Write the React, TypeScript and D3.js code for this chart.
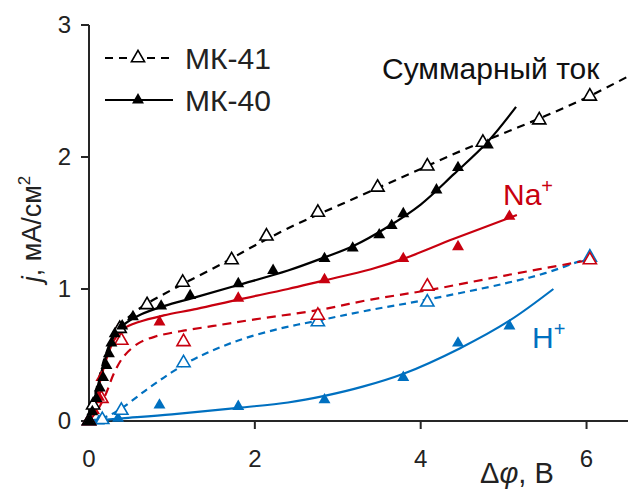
import React from "react";
import * as d3 from "d3";

// measured points: [Δφ, В ; j, мА/см²]
const total41Points = [[0, 0], [0.05, 0.12], [0.37, 0.7], [0.7, 0.88], [1.13, 1.05], [1.72, 1.22], [2.14, 1.4], [2.76, 1.58], [3.48, 1.77], [4.08, 1.93], [4.75, 2.11], [5.43, 2.28], [6.04, 2.46]];
const total40Points = [[0, 0], [0.04, 0.07], [0.09, 0.17], [0.13, 0.25], [0.17, 0.33], [0.21, 0.42], [0.24, 0.51], [0.27, 0.59], [0.31, 0.66], [0.4, 0.72], [0.53, 0.79], [0.87, 0.87], [1.22, 0.95], [1.8, 1.04], [2.22, 1.14], [2.84, 1.23], [3.18, 1.31], [3.5, 1.41], [3.65, 1.48], [3.79, 1.57], [4.19, 1.75], [4.45, 1.92], [4.81, 2.09]];
const na40Points = [[0, 0], [0.06, 0.08], [0.12, 0.18], [0.15, 0.33], [0.35, 0.69], [0.85, 0.75], [1.8, 0.93], [2.84, 1.07], [3.79, 1.23], [4.45, 1.32], [5.07, 1.55]];
const na41Points = [[0, 0], [0.15, 0.17], [0.39, 0.61], [1.14, 0.6], [2.76, 0.8], [4.08, 1.02], [6.04, 1.22]];
const h41Points = [[0, 0], [0.16, 0.01], [0.39, 0.08], [1.14, 0.44], [2.76, 0.75], [4.08, 0.9], [6.04, 1.24]];
const h40Points = [[0, 0], [0.12, 0], [0.35, 0.02], [0.85, 0.12], [1.8, 0.11], [2.84, 0.16], [3.79, 0.33], [4.45, 0.59], [5.07, 0.72]];

// fitted curves
const total41Fit = [[0, 0], [0.1, 0.27], [0.2, 0.5], [0.3, 0.65], [0.45, 0.77], [0.65, 0.87], [0.9, 0.96], [1.2, 1.06], [1.6, 1.19], [2, 1.33], [2.5, 1.49], [3, 1.63], [3.5, 1.77], [4, 1.91], [4.5, 2.05], [5, 2.18], [5.5, 2.31], [6, 2.45], [6.5, 2.61]];
const total40Fit = [[0, 0], [0.1, 0.25], [0.2, 0.48], [0.3, 0.64], [0.42, 0.73], [0.6, 0.8], [0.9, 0.87], [1.3, 0.94], [1.8, 1.03], [2.4, 1.14], [2.8, 1.23], [3.2, 1.33], [3.6, 1.47], [4, 1.64], [4.4, 1.87], [4.8, 2.11], [5.15, 2.38]];
const na40Fit = [[0, 0], [0.1, 0.22], [0.2, 0.45], [0.3, 0.61], [0.42, 0.7], [0.6, 0.75], [0.9, 0.8], [1.3, 0.85], [1.8, 0.92], [2.4, 1.0], [2.8, 1.06], [3.4, 1.15], [3.8, 1.23], [4.4, 1.38], [5.16, 1.56]];
const na41Fit = [[0, 0], [0.1, 0.08], [0.2, 0.2], [0.3, 0.36], [0.42, 0.49], [0.6, 0.59], [0.8, 0.64], [1.1, 0.68], [1.5, 0.72], [2, 0.77], [2.76, 0.84], [3.4, 0.92], [4.08, 0.99], [5, 1.1], [6.04, 1.22]];
const h41Fit = [[0, 0], [0.2, 0.03], [0.4, 0.1], [0.7, 0.24], [1, 0.37], [1.3, 0.48], [1.8, 0.61], [2.3, 0.7], [2.76, 0.76], [3.3, 0.83], [4.08, 0.92], [5, 1.04], [5.5, 1.12], [6.04, 1.24]];
const h40Fit = [[0, 0], [0.4, 0.02], [1, 0.05], [1.8, 0.1], [2.4, 0.14], [2.84, 0.19], [3.3, 0.26], [3.8, 0.36], [4.47, 0.55], [5.07, 0.76], [5.6, 1.0]];

const xTicks = [2, 4, 6];
const xTickLabels = [0, 2, 4, 6];
const yTicks = [0, 1, 2, 3];

const BLACK = "#000000";
const RED = "#c8000f";
const BLUE = "#0070c0";
const FONT = "'Liberation Sans', Arial, sans-serif";

const series = [
  { fit: h40Fit, pts: h40Points, color: BLUE, dash: null, open: false },
  { fit: h41Fit, pts: h41Points, color: BLUE, dash: "7,5", open: true },
  { fit: na41Fit, pts: na41Points, color: RED, dash: "9,6", open: true },
  { fit: na40Fit, pts: na40Points, color: RED, dash: null, open: false },
  { fit: total41Fit, pts: total41Points, color: BLACK, dash: "8,6", open: true },
  { fit: total40Fit, pts: total40Points, color: BLACK, dash: null, open: false },
];

export default function App() {
  const x = d3.scaleLinear().domain([0, 6.5]).range([89, 628]);
  const y = d3.scaleLinear().domain([0, 3]).range([421, 25]);
  const line = d3.line().x(d => x(d[0])).y(d => y(d[1])).curve(d3.curveCatmullRom.alpha(0.5));
  const filledTri = d3.symbol(d3.symbolTriangle, 62)();
  const openTri = d3.symbol(d3.symbolTriangle, 75)();
  const axisColor = "#262626";

  return (
    <svg width={628} height={489} style={{ position: "absolute", left: 0, top: 0, background: "#fff" }} fontFamily={FONT}>
      {/* axes */}
      <line x1={81} x2={628} y1={y(0)} y2={y(0)} stroke={axisColor} strokeWidth={2} />
      <line x1={x(0)} x2={x(0)} y1={y(0)} y2={y(3)} stroke={axisColor} strokeWidth={2} />
      {yTicks.map(t => (
        <g key={"y" + t}>
          <line x1={81} x2={x(0)} y1={y(t)} y2={y(t)} stroke={axisColor} strokeWidth={2} />
          <text x={71} y={y(t) + 8} textAnchor="end" fontSize={24} fill="#222">{t}</text>
        </g>
      ))}
      {xTicks.map(t => (
        <line key={"xt" + t} x1={x(t)} x2={x(t)} y1={y(0)} y2={y(0) + 8} stroke={axisColor} strokeWidth={2} />
      ))}
      {xTickLabels.map(t => (
        <text key={"xl" + t} x={x(t)} y={467} textAnchor="middle" fontSize={24} fill="#222">{t}</text>
      ))}
      <text x={480} y={483} fontSize={29} fill="#222">Δ<tspan fontStyle="italic">φ</tspan>, В</text>
      <text transform="translate(41,229) rotate(-90)" textAnchor="middle" fontSize={27} fill="#222">
        <tspan fontStyle="italic">j</tspan>, мА/см<tspan fontSize={17} dy={-11}>2</tspan>
      </text>

      {/* curves */}
      {series.map((s, i) => (
        <path key={"l" + i} d={line(s.fit as [number, number][]) || ""} fill="none" stroke={s.color} strokeWidth={2.2} strokeDasharray={s.dash || undefined} />
      ))}
      {series.map((s, i) => (
        <g key={"m" + i}>
          {s.pts.map((p, j) => (
            <path key={j} d={s.open ? openTri! : filledTri!} transform={`translate(${x(p[0])},${y(p[1])})`}
              fill={s.open ? "#fff" : s.color} stroke={s.color} strokeWidth={s.open ? 1.6 : 0} />
          ))}
        </g>
      ))}

      {/* legend */}
      <line x1={105} x2={170} y1={58} y2={58} stroke={BLACK} strokeWidth={2.2} strokeDasharray="8,6" />
      <path d={openTri!} transform="translate(138,58)" fill="#fff" stroke={BLACK} strokeWidth={1.6} />
      <text x={185} y={69} fontSize={30} fill="#222">МК-41</text>
      <line x1={105} x2={173} y1={100} y2={100} stroke={BLACK} strokeWidth={2.2} />
      <path d={filledTri!} transform="translate(138,100)" fill={BLACK} />
      <text x={185} y={111} fontSize={30} fill="#222">МК-40</text>

      {/* labels */}
      <text x={382} y={79} fontSize={30} fill="#111">Суммарный ток</text>
      <text x={503} y={205} fontSize={30} fill={RED}>Na<tspan fontSize={20} dy={-12}>+</tspan></text>
      <text x={532} y={348} fontSize={30} fill={BLUE}>H<tspan fontSize={20} dy={-12}>+</tspan></text>
    </svg>
  );
}
